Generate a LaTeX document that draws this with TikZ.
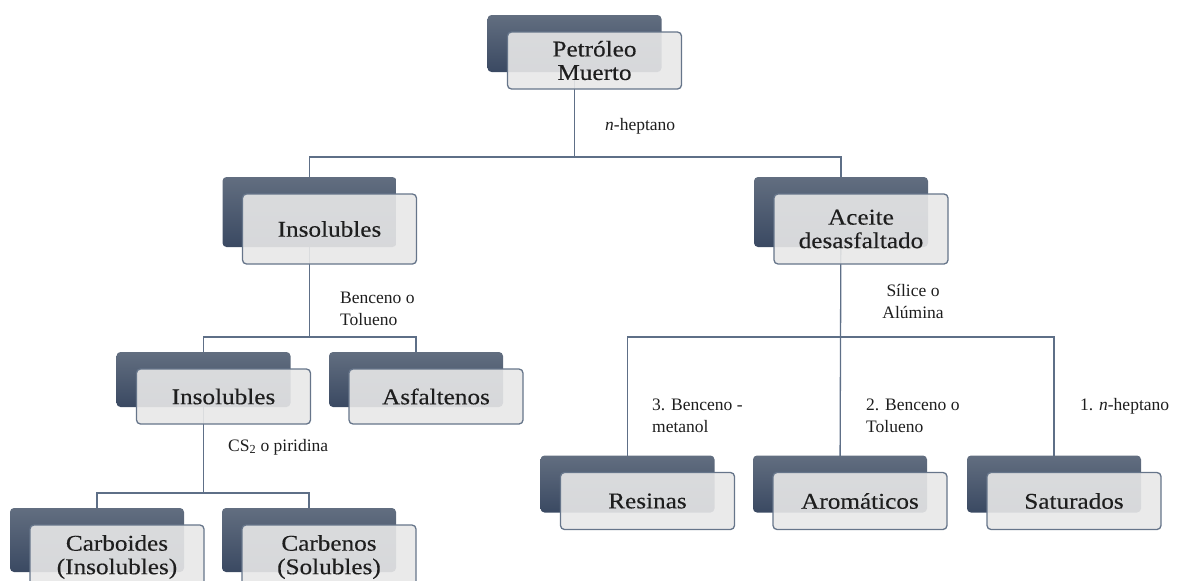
\documentclass[tikz,border=0pt]{standalone}
\usepackage{fontspec}
\setmainfont{Liberation Serif}
\newfontfamily\boxfam[FakeStretch=1.12,FakeBold=0.3]{Liberation Serif}
\pgfdeclarelayer{bg}
\pgfsetlayers{bg,main}
\definecolor{linecol}{HTML}{5E6F87}
\definecolor{bordercol}{HTML}{66758A}
\definecolor{lightfill}{HTML}{E8E8E8}
\definecolor{darktop}{HTML}{626E80}
\definecolor{darkbot}{HTML}{3A4962}
\definecolor{txtcol}{HTML}{1E1E1E}
\begin{document}
\begin{tikzpicture}[x=1pt,y=-1pt,
  darkbox/.style={rounded corners=4pt, top color=darktop, bottom color=darkbot, draw=none,
    minimum width=174pt, minimum height=#1, inner sep=0pt},
  darkbox/.default=57pt,
  lightbox/.style={rounded corners=4pt, draw=bordercol, line width=1.3pt, fill=lightfill,
    fill opacity=0.9, text opacity=1, text=txtcol, minimum width=174pt, minimum height=#1, inner sep=0pt,
    align=center, font=\boxfam\fontsize{22.5}{23.5}\selectfont},
  lightbox/.default=57pt,
  lbl/.style={inner sep=0pt, align=left, text=txtcol, font=\fontsize{17.5}{22}\selectfont},
  conn/.style={draw=linecol, line width=1.3pt}]
\useasboundingbox (0,0) rectangle (1179,581);
\clip (0,0) rectangle (1179,581);
\coordinate (b1) at (0,157);
\coordinate (b2) at (0,337);
\coordinate (b3) at (0,493);
% level 1
\node[darkbox] (pmD) at (574.5,43.5) {};
\node[lightbox] (pm) at ([shift={(20,17)}]pmD.center) {Petróleo\\Muerto};
% level 2
\node[darkbox=70pt] (ins2D) at (309.5,212) {};
\node[lightbox=70pt] (ins2) at ([shift={(20,17)}]ins2D.center) {Insolubles};
\node[darkbox=70pt] (aceD) at (841,212) {};
\node[lightbox=70pt] (ace) at ([shift={(20,17)}]aceD.center) {Aceite\\desasfaltado};
% level 3
\node[darkbox=55pt] (ins3D) at (203.5,379.5) {};
\node[lightbox=55pt] (ins3) at ([shift={(20,17)}]ins3D.center) {Insolubles};
\node[darkbox=55pt] (asfD) at (416,379.5) {};
\node[lightbox=55pt] (asf) at ([shift={(20,17)}]asfD.center) {Asfaltenos};
% level 4 right
\node[darkbox] (resD) at (627.5,484) {};
\node[lightbox] (res) at ([shift={(20,17)}]resD.center) {Resinas};
\node[darkbox] (aroD) at (840,484) {};
\node[lightbox] (aro) at ([shift={(20,17)}]aroD.center) {Aromáticos};
\node[darkbox] (satD) at (1054,484) {};
\node[lightbox] (sat) at ([shift={(20,17)}]satD.center) {Saturados};
% level 4 left
\node[darkbox=64pt] (carD) at (97,540) {};
\node[lightbox=64pt] (car) at ([shift={(20,17)}]carD.center) {Carboides\\(Insolubles)};
\node[darkbox=64pt] (cbnD) at (309,540) {};
\node[lightbox=64pt] (cbn) at ([shift={(20,17)}]cbnD.center) {Carbenos\\(Solubles)};
% connectors
\begin{pgfonlayer}{bg}
\draw[conn] (pmD.center) -- (pmD.center |- b1);
\draw[conn] (ins2D.center) |- (aceD.center |- b1) -- (aceD.center);
\draw[conn] (ins2D.center) -- (ins2D.center |- b2);
\draw[conn] (ins3D.center) |- (asfD.center |- b2) -- (asfD.center);
\draw[conn] (ins3D.center) -- (ins3D.center |- b3);
\draw[conn] (carD.center) |- (cbnD.center |- b3) -- (cbnD.center);
\draw[conn] (aceD.center) -- (aroD.center);
\draw[conn] (resD.center) |- (satD.center |- b2) -- (satD.center);
\end{pgfonlayer}
% labels (base anchor = baseline of the last line)
\node[lbl, anchor=base west] (l1) at (605,130) {\textit{n}-heptano};
\node[lbl, anchor=base west] (l2) at (340,325) {Benceno o\\Tolueno};
\node[lbl, anchor=base, align=center] (l3) at (913,318) {Sílice o\\Alúmina};
\node[lbl, anchor=base west] (l4) at (228,451) {CS\textsubscript{2} o piridina};
\node[lbl, anchor=base west] (l5) at (652,432) {3. Benceno -\\metanol};
\node[lbl, anchor=base west] (l6) at (866,432) {2. Benceno o\\Tolueno};
\node[lbl, anchor=base west] (l7) at (1080,410) {1. \textit{n}-heptano};
\end{tikzpicture}
\end{document}
